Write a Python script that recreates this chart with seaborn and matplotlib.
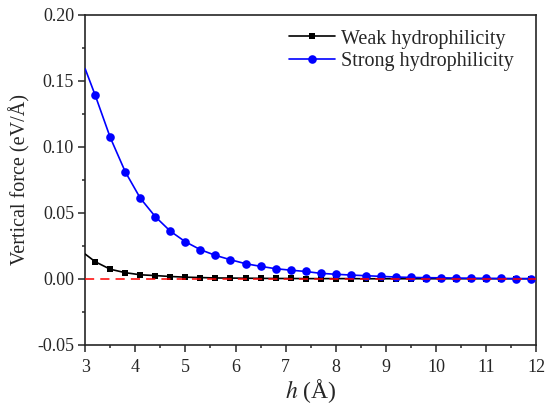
import numpy as np
import pandas as pd
import matplotlib
matplotlib.use("Agg")
import matplotlib.pyplot as plt
import seaborn as sns
from matplotlib.ticker import MultipleLocator

h = [3.0, 3.2, 3.5, 3.8, 4.1, 4.4, 4.7, 5.0, 5.3, 5.6, 5.9, 6.2, 6.5, 6.8, 7.1,
     7.4, 7.7, 8.0, 8.3, 8.6, 8.9, 9.2, 9.5, 9.8, 10.1, 10.4, 10.7, 11.0, 11.3, 11.6, 11.9]
weak = [0.0187, 0.0129, 0.0072, 0.0046, 0.0030, 0.0024, 0.0017, 0.0012, 0.0009, 0.0006,
        0.0005, 0.0004, 0.0003, 0.0002, 0.0002, 0.0001, 0.0001, 0.0001, 0.0001, 0.0,
        0.0, 0.0, 0.0, 0.0, 0.0, 0.0, 0.0, 0.0, 0.0, 0.0, 0.0]
strong = [0.159, 0.139, 0.107, 0.081, 0.061, 0.047, 0.036, 0.028, 0.022, 0.0177,
          0.0144, 0.0114, 0.0094, 0.0076, 0.0065, 0.0055, 0.0041, 0.0034, 0.0028, 0.0023,
          0.0018, 0.0013, 0.0010, 0.0008, 0.0007, 0.0005, 0.0004, 0.0003, 0.0002, 0.0001, 0.0001]
labels = ["Weak hydrophilicity", "Strong hydrophilicity"]

sns.set_style("ticks")
plt.rcParams['font.family'] = ['Liberation Serif', 'DejaVu Serif']
plt.rcParams['mathtext.fontset'] = 'stix'

fig = plt.figure(figsize=(5.46, 4.08), dpi=100)
ax = fig.add_axes([0.156, 0.155, 0.826, 0.809])

df = pd.DataFrame({"h": h + h, "F": weak + strong,
                   "series": [labels[0]] * len(h) + [labels[1]] * len(h)})

ax.axhline(0, color="red", ls=(0, (6, 4)), lw=1.1, zorder=5)

marks = list(range(1, len(h)))
sns.lineplot(data=df[df.series == labels[0]], x="h", y="F", ax=ax, color="black",
             marker="s", markersize=5, markeredgewidth=0, lw=1.2, markevery=marks,
             label=labels[0], zorder=3)
sns.lineplot(data=df[df.series == labels[1]], x="h", y="F", ax=ax, color="#0000ff",
             marker="o", markersize=6.2, markeredgewidth=0, lw=1.2, markevery=marks,
             label=labels[1], zorder=4)

ax.set_xlim(3, 12)
ax.set_ylim(-0.05, 0.20)
ax.xaxis.set_major_locator(MultipleLocator(1))
ax.xaxis.set_minor_locator(MultipleLocator(0.5))
ax.yaxis.set_major_locator(MultipleLocator(0.05))
ax.yaxis.set_minor_locator(MultipleLocator(0.025))
ax.yaxis.set_major_formatter(plt.FuncFormatter(lambda v, p: f"{v:.2f}"))
ax.tick_params(which="major", direction="out", length=5, width=1.1, labelsize=13,
               top=False, right=False)
ax.tick_params(axis="x", which="major", pad=5)
ax.tick_params(axis="y", which="major", pad=3)
ax.tick_params(which="minor", direction="out", length=2.5, width=1.1, top=False, right=False)
for s in ax.spines.values():
    s.set_linewidth(1.2)
    s.set_visible(True)

ax.set_xlabel("$h$ (Å)", fontsize=17, labelpad=1)
ax.set_ylabel("Vertical force (eV/Å)", fontsize=14.5, labelpad=5)

leg = ax.legend(loc="upper right", bbox_to_anchor=(0.98, 0.995), frameon=False,
                fontsize=14.5, handlelength=2.3, borderaxespad=0.25,
                labelspacing=0.15, handletextpad=0.3)

fig.savefig("out.png", dpi=100)
